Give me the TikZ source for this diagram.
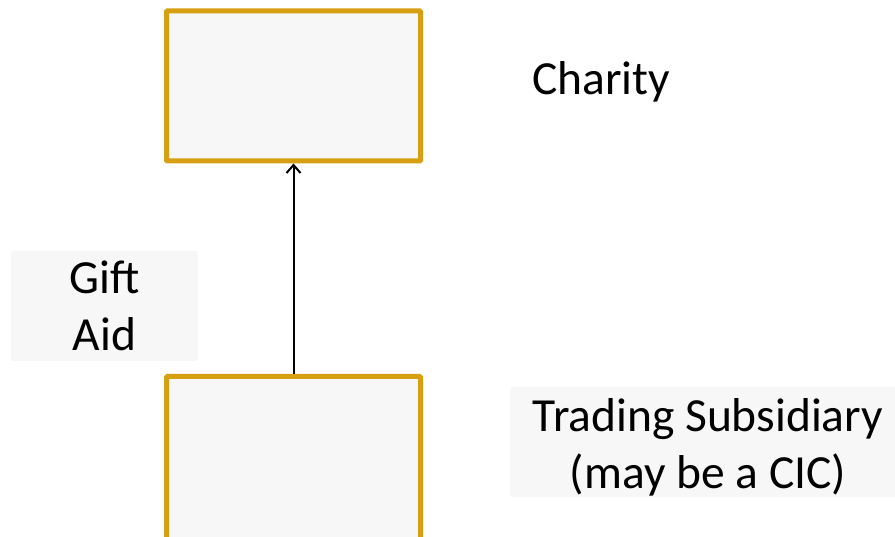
\documentclass[tikz,border=0pt]{standalone}
\usepackage{fontspec}
\setmainfont{Carlito}
\usetikzlibrary{arrows.meta}
\definecolor{gold}{HTML}{D6A012}
\definecolor{boxfill}{HTML}{F7F7F7}
\tikzset{
  entity/.style={draw=gold, line width=5pt, fill=boxfill, rounded corners=1pt, minimum width=254pt, minimum height=150pt, inner sep=0pt},
  lbl/.style={fill=boxfill, rounded corners=2pt, font=\fontsize{47.5}{57}\selectfont, align=center, inner sep=0pt},
  plain/.style={font=\fontsize{47.5}{57}\selectfont, inner sep=0pt, align=center}
}
\begin{document}
\begin{tikzpicture}[x=1pt,y=-1pt]
\useasboundingbox (0,0) rectangle (895,537);
\clip (0,0) rectangle (895,537);
\node[entity] (charity) at (293.5,86) {};
\node[entity, anchor=north, minimum height=180pt] (trading) at (293.5,374) {};
\node[lbl, minimum width=187pt, minimum height=110pt] (gift) at (104.5,306) {Gift\\Aid};
\node[plain] (ctext) at (601,82) {Charity};
\node[lbl, minimum width=390pt, minimum height=110pt] (tbg) at (705,442) {};
\node[plain] (ttext) at (708,447) {Trading Subsidiary\\(may be a CIC)};
\draw[line width=2pt, -{Straight Barb[length=8pt,width=14pt]}] (trading.north) -- (charity.south);
\end{tikzpicture}
\end{document}
